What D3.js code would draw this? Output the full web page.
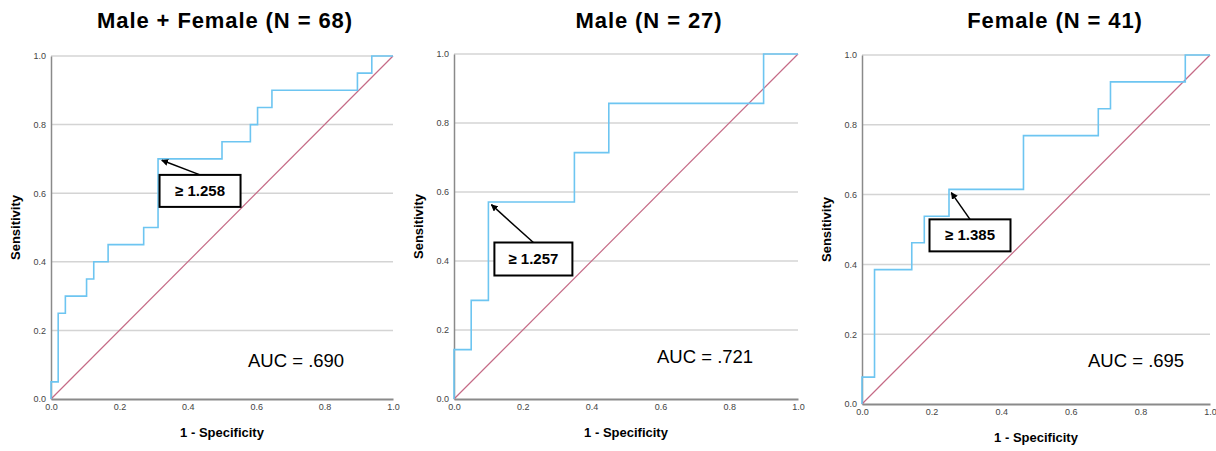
<!DOCTYPE html>
<html>
<head>
<meta charset="utf-8">
<script src="https://cdnjs.cloudflare.com/ajax/libs/d3/7.8.5/d3.min.js"></script>
<style>
  body { margin: 0; background: #fff; }
  svg { font-family: "Liberation Sans", Arial, sans-serif; }
</style>
</head>
<body>
<div id="chart"></div>
<script>
// Panel titles and labels
var titles = ['Male + Female (N = 68)', 'Male (N = 27)', 'Female (N = 41)'];
var aucLabels = ['AUC = .690', 'AUC = .721', 'AUC = .695'];
var cutLabels = ['\u2265 1.258', '\u2265 1.257', '\u2265 1.385'];
var tickValues = [0, 0.2, 0.4, 0.6, 0.8, 1.0];

// ROC corner points (1 - specificity, sensitivity)
var fprAll = [0, 0.021, 0.042, 0.104, 0.125, 0.167, 0.271, 0.313, 0.5, 0.583, 0.604, 0.646, 0.896, 0.938, 1.0];
var tprAll = [0, 0.05, 0.25, 0.30, 0.35, 0.40, 0.45, 0.50, 0.70, 0.75, 0.80, 0.85, 0.90, 0.95, 1.0];

var fprMale = [0, 0.05, 0.10, 0.35, 0.45, 0.90, 1.0];
var tprMale = [0, 0.143, 0.286, 0.571, 0.714, 0.857, 1.0];

var fprFemale = [0, 0.036, 0.143, 0.179, 0.25, 0.464, 0.679, 0.714, 0.929, 1.0];
var tprFemale = [0, 0.077, 0.385, 0.462, 0.538, 0.615, 0.769, 0.846, 0.923, 1.0];

// cutoff points marked with an arrow
var cutFpr = [0.313, 0.10, 0.25];
var cutTpr = [0.70, 0.571, 0.615];

var fprs = [fprAll, fprMale, fprFemale];
var tprs = [tprAll, tprMale, tprFemale];

// Layout of each panel (pixels)
var layout = [
  {left: 51, top: 56, width: 342, height: 343, titleX: 225, labelY: 437,
   box: {dx: 42, dy: 32, w: 81, h: 32}, auc: {x: 197, y: 311}},
  {left: 454, top: 54, width: 344, height: 345, titleX: 649, labelY: 437,
   box: {dx: 45, dy: 57, w: 78, h: 33}, auc: {x: 203, y: 309}},
  {left: 862, top: 55, width: 348, height: 349, titleX: 1055, labelY: 442,
   box: {dx: 21, dy: 46, w: 81, h: 32}, auc: {x: 226, y: 312}}
];

var blue = '#6dc5f1',
    rose = '#c56a86',
    grid = '#d4d4d4',
    axisGray = '#8a8a8a';

var svg = d3.select('#chart')
  .append('svg')
  .attr('width', 1216)
  .attr('height', 451);

// arrow marker
svg.append('defs').append('marker')
  .attr('id', 'arrow')
  .attr('viewBox', '0 0 10 10')
  .attr('refX', 9)
  .attr('refY', 5)
  .attr('markerWidth', 7)
  .attr('markerHeight', 7)
  .attr('markerUnits', 'userSpaceOnUse')
  .attr('orient', 'auto')
  .append('path')
  .attr('d', 'M0,0 L10,5 L0,10 z')
  .attr('fill', '#000');

layout.forEach(function(p, i) {

  var x = d3.scaleLinear().domain([0, 1]).range([0, p.width]);
  var y = d3.scaleLinear().domain([0, 1]).range([p.height, 0]);

  var g = svg.append('g')
    .attr('transform', 'translate(' + p.left + ',' + p.top + ')');

  // title
  svg.append('text')
    .attr('x', p.titleX)
    .attr('y', 28)
    .attr('text-anchor', 'middle')
    .style('font-size', '22px')
    .style('letter-spacing', '0.9px')
    .style('font-weight', 'bold')
    .attr('fill', '#000')
    .text(titles[i]);

  // gridlines
  g.append('g')
    .selectAll('line')
    .data(tickValues.slice(1))
    .enter().append('line')
    .attr('x1', 0)
    .attr('x2', p.width)
    .attr('y1', function(d) { return y(d); })
    .attr('y2', function(d) { return y(d); })
    .attr('stroke', grid)
    .attr('stroke-width', 1.5);

  // y axis
  var yAxis = g.append('g')
    .call(d3.axisLeft(y).tickValues(tickValues).tickFormat(d3.format('.1f')).tickSize(0).tickPadding(5));
  yAxis.select('.domain').attr('stroke', axisGray).attr('stroke-width', 1.5);
  yAxis.selectAll('text').style('font-size', '9px').attr('fill', '#444');

  // x axis
  var xAxis = g.append('g')
    .attr('transform', 'translate(0,' + p.height + ')')
    .call(d3.axisBottom(x).tickValues(tickValues).tickFormat(d3.format('.1f')).tickSize(0).tickPadding(5));
  xAxis.select('.domain').attr('stroke', axisGray).attr('stroke-width', 2);
  xAxis.selectAll('text').style('font-size', '9px').attr('fill', '#444');

  // axis titles
  g.append('text')
    .attr('x', p.width / 2)
    .attr('y', p.labelY - p.top)
    .attr('text-anchor', 'middle')
    .style('font-size', '13px')
    .style('font-weight', 'bold')
    .text('1 - Specificity');

  g.append('text')
    .attr('transform', 'rotate(-90)')
    .attr('x', -p.height / 2)
    .attr('y', -31)
    .attr('text-anchor', 'middle')
    .style('font-size', '13px')
    .style('font-weight', 'bold')
    .text('Sensitivity');

  // reference diagonal
  g.append('path')
    .datum([0, 1])
    .attr('fill', 'none')
    .attr('stroke', rose)
    .attr('stroke-width', 1.2)
    .attr('d', d3.line().x(function(d) { return x(d); }).y(function(d) { return y(d); }));

  // ROC curve
  var pts = fprs[i].map(function(f, k) { return [f, tprs[i][k]]; });
  g.append('path')
    .datum(pts)
    .attr('fill', 'none')
    .attr('stroke', blue)
    .attr('stroke-width', 1.6)
    .attr('d', d3.line()
      .curve(d3.curveStepBefore)
      .x(function(d) { return x(d[0]); })
      .y(function(d) { return y(d[1]); }));

  // cutoff annotation
  var px = x(cutFpr[i]), py = y(cutTpr[i]);
  var bx = px + p.box.dx, by = py + p.box.dy;
  var sx = bx, sy = by - p.box.h / 2;
  var ang = Math.atan2(py - sy, px - sx);
  g.append('line')
    .attr('x1', sx)
    .attr('y1', sy)
    .attr('x2', px - 4 * Math.cos(ang))
    .attr('y2', py - 4 * Math.sin(ang))
    .attr('stroke', '#000')
    .attr('stroke-width', 1.5)
    .attr('marker-end', 'url(#arrow)');

  g.append('rect')
    .attr('x', bx - p.box.w / 2)
    .attr('y', by - p.box.h / 2)
    .attr('width', p.box.w)
    .attr('height', p.box.h)
    .attr('fill', '#fff')
    .attr('stroke', '#000')
    .attr('stroke-width', 2);

  g.append('text')
    .attr('x', bx)
    .attr('y', by + 5)
    .attr('text-anchor', 'middle')
    .style('font-size', '15px')
    .style('font-weight', 'bold')
    .text(cutLabels[i]);

  // AUC text
  g.append('text')
    .attr('x', p.auc.x)
    .attr('y', p.auc.y)
    .style('font-size', '18.5px')
    .text(aucLabels[i]);
});
</script>
</body>
</html>
